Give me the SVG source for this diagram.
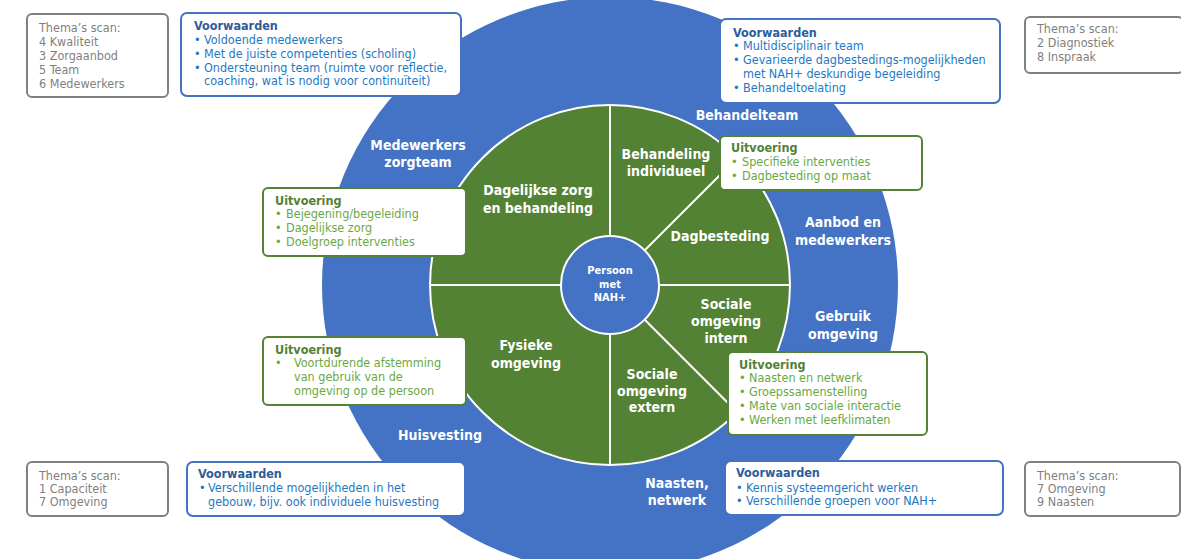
<svg xmlns="http://www.w3.org/2000/svg" width="1181" height="559" viewBox="0 0 1181 559">
<style>
text{font-family:'DejaVu Sans Condensed','DejaVu Sans',sans-serif;font-stretch:condensed}
.lbl{fill:#fff;font-weight:bold;font-size:14px;text-anchor:middle}
.ctr{fill:#fff;font-weight:bold;font-size:11px;text-anchor:middle}
.box{fill:#fff;stroke-width:2}
.bb{stroke:#4472C4}
.gb{stroke:#548235}
.gr{stroke:#808080}
.t{font-size:12.5px}
.th{font-size:12.5px;fill:#7f7f7f}
.vt{font-weight:bold;fill:#2E5C9A}
.vx{fill:#1F78C1}
.ut{font-weight:bold;fill:#548235}
.ux{fill:#6AA843}
.sep{stroke:#fff;stroke-width:2;fill:none}
</style>
<g id="wheel">
<circle cx="610" cy="285" r="288" fill="#4472C4"/>
<circle cx="610" cy="285" r="180" fill="#548235" stroke="#fff" stroke-width="2"/>
</g>
<g id="connectors">
<line class="sep" x1="610" y1="105" x2="610" y2="465"/>
<line class="sep" x1="430" y1="285" x2="790" y2="285"/>
<line class="sep" x1="610" y1="285" x2="737.3" y2="157.7"/>
<line class="sep" x1="610" y1="285" x2="737.3" y2="412.3"/>
</g>
<g id="center">
<circle cx="610" cy="285" r="49" fill="#4472C4" stroke="#fff" stroke-width="2"/>
<text class="ctr" x="610" y="274">Persoon</text>
<text class="ctr" x="610" y="288">met</text>
<text class="ctr" x="610" y="301">NAH+</text>
</g>
<g id="outer-labels">
<text class="lbl" x="418" y="150">Medewerkers</text>
<text class="lbl" x="418" y="167">zorgteam</text>
<text class="lbl" x="747" y="120">Behandelteam</text>
<text class="lbl" x="843" y="227">Aanbod en</text>
<text class="lbl" x="843" y="245">medewerkers</text>
<text class="lbl" x="843" y="321">Gebruik</text>
<text class="lbl" x="843" y="339">omgeving</text>
<text class="lbl" x="440" y="440">Huisvesting</text>
<text class="lbl" x="677" y="488">Naasten,</text>
<text class="lbl" x="677" y="505">netwerk</text>
</g>
<g id="sector-dagelijkse">
<text class="lbl" x="538" y="195">Dagelijkse zorg</text>
<text class="lbl" x="538" y="213">en behandeling</text>
</g>
<g id="sector-behandeling">
<text class="lbl" x="666" y="159">Behandeling</text>
<text class="lbl" x="666" y="176">individueel</text>
</g>
<g id="sector-dagbesteding">
<text class="lbl" x="720" y="241">Dagbesteding</text>
</g>
<g id="sector-sociale-intern">
<text class="lbl" x="726" y="309">Sociale</text>
<text class="lbl" x="726" y="326">omgeving</text>
<text class="lbl" x="726" y="343">intern</text>
</g>
<g id="sector-sociale-extern">
<text class="lbl" x="652" y="379">Sociale</text>
<text class="lbl" x="652" y="396">omgeving</text>
<text class="lbl" x="652" y="412">extern</text>
</g>
<g id="sector-fysieke">
<text class="lbl" x="526" y="350">Fysieke</text>
<text class="lbl" x="526" y="368">omgeving</text>
</g>
<g id="scan-tl">
<rect class="box gr" x="27" y="14" width="141" height="83" rx="5"/>
<text class="th" x="39" y="32">Thema’s scan:</text>
<text class="th" x="39" y="46">4 Kwaliteit</text>
<text class="th" x="39" y="60">3 Zorgaanbod</text>
<text class="th" x="39" y="74">5 Team</text>
<text class="th" x="39" y="88">6 Medewerkers</text>
</g>
<g id="voorw-tl">
<rect class="box bb" x="181" y="13" width="280" height="83" rx="6"/>
<text class="t vt" x="194" y="30">Voorwaarden</text>
<text class="t vx" x="194" y="44">•</text><text class="t vx" x="204" y="44">Voldoende medewerkers</text>
<text class="t vx" x="194" y="58">•</text><text class="t vx" x="204" y="58">Met de juiste competenties (scholing)</text>
<text class="t vx" x="194" y="72">•</text><text class="t vx" x="204" y="72">Ondersteuning team (ruimte voor reflectie,</text>
<text class="t vx" x="204" y="85">coaching, wat is nodig voor continuïteit)</text>
</g>
<g id="voorw-tr">
<rect class="box bb" x="720" y="19" width="280" height="84" rx="6"/>
<text class="t vt" x="733" y="37">Voorwaarden</text>
<text class="t vx" x="733" y="50">•</text><text class="t vx" x="743" y="50">Multidisciplinair team</text>
<text class="t vx" x="733" y="64">•</text><text class="t vx" x="743" y="64">Gevarieerde dagbestedings-mogelijkheden</text>
<text class="t vx" x="743" y="78">met NAH+ deskundige begeleiding</text>
<text class="t vx" x="733" y="92">•</text><text class="t vx" x="743" y="92">Behandeltoelating</text>
</g>
<g id="scan-tr">
<rect class="box gr" x="1025" y="17" width="158" height="56" rx="5"/>
<text class="th" x="1037" y="33">Thema’s scan:</text>
<text class="th" x="1037" y="47">2 Diagnostiek</text>
<text class="th" x="1037" y="61">8 Inspraak</text>
</g>
<g id="uitv-dagelijkse">
<rect class="box gb" x="263" y="188" width="203" height="68" rx="5"/>
<text class="t ut" x="275" y="205">Uitvoering</text>
<text class="t ux" x="275" y="218">•</text><text class="t ux" x="286" y="218">Bejegening/begeleiding</text>
<text class="t ux" x="275" y="232">•</text><text class="t ux" x="286" y="232">Dagelijkse zorg</text>
<text class="t ux" x="275" y="246">•</text><text class="t ux" x="286" y="246">Doelgroep interventies</text>
</g>
<g id="uitv-behandeling">
<rect class="box gb" x="720" y="136" width="202" height="54" rx="5"/>
<text class="t ut" x="731" y="152">Uitvoering</text>
<text class="t ux" x="731" y="166">•</text><text class="t ux" x="742" y="166">Specifieke interventies</text>
<text class="t ux" x="731" y="180">•</text><text class="t ux" x="742" y="180">Dagbesteding op maat</text>
</g>
<g id="uitv-fysieke">
<rect class="box gb" x="263" y="337" width="203" height="68" rx="5"/>
<text class="t ut" x="275" y="354">Uitvoering</text>
<text class="t ux" x="275" y="367">•</text><text class="t ux" x="294" y="367">Voortdurende afstemming</text>
<text class="t ux" x="294" y="381">van gebruik van de</text>
<text class="t ux" x="294" y="395">omgeving op de persoon</text>
</g>
<g id="uitv-sociale">
<rect class="box gb" x="728" y="352" width="199" height="83" rx="5"/>
<text class="t ut" x="739" y="369">Uitvoering</text>
<text class="t ux" x="739" y="382">•</text><text class="t ux" x="749" y="382">Naasten en netwerk</text>
<text class="t ux" x="739" y="396">•</text><text class="t ux" x="749" y="396">Groepssamenstelling</text>
<text class="t ux" x="739" y="410">•</text><text class="t ux" x="749" y="410">Mate van sociale interactie</text>
<text class="t ux" x="739" y="424">•</text><text class="t ux" x="749" y="424">Werken met leefklimaten</text>
</g>
<g id="scan-bl">
<rect class="box gr" x="27" y="462" width="141" height="54" rx="5"/>
<text class="th" x="39" y="480">Thema’s scan:</text>
<text class="th" x="39" y="493">1 Capaciteit</text>
<text class="th" x="39" y="506">7 Omgeving</text>
</g>
<g id="voorw-bl">
<rect class="box bb" x="187" y="462" width="278" height="54" rx="6"/>
<text class="t vt" x="198" y="478">Voorwaarden</text>
<text class="t vx" x="199" y="492">•</text><text class="t vx" x="208" y="492">Verschillende mogelijkheden in het</text>
<text class="t vx" x="208" y="506">gebouw, bijv. ook individuele huisvesting</text>
</g>
<g id="voorw-br">
<rect class="box bb" x="725" y="461" width="278" height="54" rx="6"/>
<text class="t vt" x="736" y="477">Voorwaarden</text>
<text class="t vx" x="736" y="492">•</text><text class="t vx" x="746" y="492">Kennis systeemgericht werken</text>
<text class="t vx" x="736" y="505">•</text><text class="t vx" x="746" y="505">Verschillende groepen voor NAH+</text>
</g>
<g id="scan-br">
<rect class="box gr" x="1025" y="462" width="155" height="54" rx="5"/>
<text class="th" x="1037" y="480">Thema’s scan:</text>
<text class="th" x="1037" y="493">7 Omgeving</text>
<text class="th" x="1037" y="506">9 Naasten</text>
</g>
</svg>
